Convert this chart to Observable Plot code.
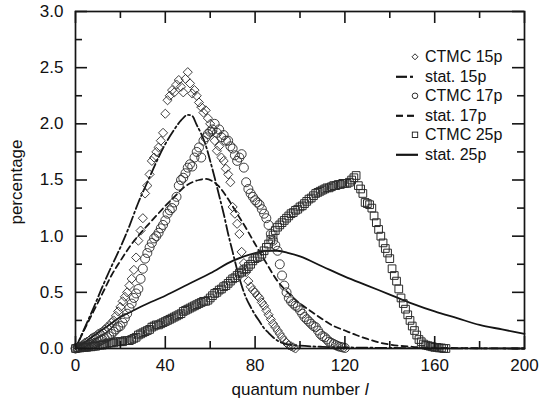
<!DOCTYPE html>
<html>
<head>
<meta charset="utf-8">
<script src="https://cdn.jsdelivr.net/npm/d3@7"></script>
<script src="https://cdn.jsdelivr.net/npm/@observablehq/plot@0.6"></script>
<style>
  body { margin: 0; background: #fff; }
  #wrap { position: relative; width: 540px; height: 405px; font-family: "Liberation Sans", Arial, sans-serif; color: #111; }
  #wrap svg.plot { position: absolute; left: 0; top: 0; }
  #wrap svg.plot text { font-size: 17px; font-family: "Liberation Sans", Arial, sans-serif; }
  .lab { position: absolute; font-size: 17px; white-space: nowrap; }
  #ylab { left: 17px; top: 182px; transform: translate(-50%, -50%) rotate(-90deg); }
  #xlab { left: 300px; top: 380px; transform: translateX(-50%); }
  #legend { position: absolute; left: 394px; top: 47px; font-size: 16px; }
  #legend .row { height: 19.6px; line-height: 19.6px; display: flex; align-items: center; }
  #legend .row svg { width: 31px; height: 19.6px; flex: none; }
</style>
</head>
<body>
<div id="wrap">
  <div class="lab" id="ylab">percentage</div>
  <div class="lab" id="xlab">quantum number <i>l</i></div>
  <div id="legend"></div>
</div>
<script>
// ---- data ----
// CTMC 15p, value at l = 0,1,2,...
const ctmc15 = [
  0, 0.01, 0.02, 0.03, 0.05, 0.06, 0.07, 0.09, 0.1, 0.11,
  0.13, 0.14, 0.15, 0.17, 0.19, 0.2, 0.23, 0.25, 0.29, 0.33,
  0.37, 0.42, 0.46, 0.5, 0.56, 0.62, 0.7, 0.81, 0.96, 1.05,
  1.16, 1.38, 1.45, 1.55, 1.67, 1.7, 1.75, 1.79, 1.85, 1.92,
  2.09, 2.21, 2.25, 2.3, 2.28, 2.35, 2.39, 2.33, 2.28, 2.4,
  2.46, 2.36, 2.27, 2.3, 2.25, 2.19, 2.15, 2.1, 2.12, 2.05,
  2.0, 1.93, 1.85, 1.76, 1.8, 1.7, 1.67, 1.6, 1.55, 1.48,
  1.26, 1.2, 1.11, 1.02, 0.86, 0.76, 0.68, 0.6, 0.55, 0.52,
  0.5, 0.47, 0.45, 0.41, 0.38, 0.34, 0.3, 0.26, 0.22, 0.19,
  0.16, 0.13, 0.1, 0.07, 0.05, 0.03, 0.02, 0.01, 0.0
];
// CTMC 17p, value at l = 0,1,2,...
const ctmc17 = [
  0, 0.005, 0.01, 0.015, 0.02, 0.025, 0.03, 0.035, 0.045, 0.05,
  0.06, 0.07, 0.08, 0.09, 0.1, 0.11, 0.13, 0.15, 0.17, 0.19,
  0.2, 0.23, 0.27, 0.31, 0.36, 0.4, 0.45, 0.49, 0.53, 0.62,
  0.71, 0.8, 0.85, 0.9, 0.94, 0.98, 1.0, 1.03, 1.07, 1.1,
  1.14, 1.2, 1.23, 1.25, 1.3, 1.35, 1.45, 1.5, 1.52, 1.56,
  1.61, 1.64, 1.62, 1.7, 1.75, 1.79, 1.7, 1.85, 1.88, 1.91,
  1.93, 1.95, 2.0, 1.92, 1.95, 1.88, 1.9, 1.85, 1.85, 1.8,
  1.78, 1.72, 1.67, 1.7, 1.73, 1.61, 1.48, 1.42, 1.38, 1.35,
  1.32, 1.3, 1.28, 1.24, 1.2, 1.16, 1.1, 1.02, 0.96, 0.92,
  0.87, 0.75, 0.65, 0.56, 0.5, 0.45, 0.42, 0.4, 0.38, 0.37,
  0.34, 0.31, 0.28, 0.26, 0.24, 0.22, 0.2, 0.19, 0.16, 0.13,
  0.11, 0.1, 0.08, 0.06, 0.05, 0.04, 0.03, 0.02, 0.015, 0.01, 0.005
];
// CTMC 25p, value at l = 0,1,2,...
const ctmc25 = [
  0, 0.005, 0.005, 0.01, 0.01, 0.01, 0.015, 0.015, 0.02, 0.02,
  0.03, 0.03, 0.03, 0.04, 0.04, 0.05, 0.05, 0.05, 0.06, 0.06,
  0.06, 0.06, 0.07, 0.07, 0.07, 0.08, 0.09, 0.1, 0.12, 0.13,
  0.14, 0.15, 0.16, 0.17, 0.19, 0.2, 0.21, 0.21, 0.22, 0.23,
  0.24, 0.25, 0.26, 0.27, 0.28, 0.29, 0.3, 0.31, 0.33, 0.34,
  0.35, 0.36, 0.37, 0.38, 0.39, 0.4, 0.41, 0.42, 0.42, 0.43,
  0.45, 0.47, 0.49, 0.5, 0.52, 0.53, 0.55, 0.56, 0.58, 0.6,
  0.62, 0.63, 0.65, 0.67, 0.68, 0.7, 0.71, 0.73, 0.75, 0.78,
  0.8, 0.81, 0.82, 0.84, 0.87, 0.9, 0.93, 0.97, 1.01, 1.05,
  1.08, 1.1, 1.12, 1.14, 1.16, 1.18, 1.2, 1.21, 1.23, 1.24,
  1.26, 1.27, 1.29, 1.31, 1.33, 1.34, 1.36, 1.38, 1.39, 1.4,
  1.41, 1.42, 1.43, 1.43, 1.44, 1.45, 1.45, 1.46, 1.46, 1.47,
  1.47, 1.47, 1.48, 1.5, 1.52, 1.54, 1.45, 1.42, 1.38, 1.3,
  1.29, 1.28, 1.25, 1.18, 1.12, 1.06, 1.0, 0.94, 0.89, 0.85,
  0.8, 0.71, 0.65, 0.6, 0.53, 0.45, 0.4, 0.35, 0.3, 0.25,
  0.2, 0.16, 0.12, 0.08, 0.06, 0.04, 0.03, 0.025, 0.02, 0.015,
  0.01, 0.01, 0.005, 0.005, 0.0, 0.0
];
// statistical curves
const stat15L = [0, 4, 8, 12, 16, 20, 24, 28, 32, 36, 40, 44, 47, 50, 52, 54, 56, 58, 60, 62, 64, 66, 68, 70, 72, 74, 76, 78, 80, 82, 84, 86, 88, 90, 95, 100, 110, 120, 140, 160, 200];
const stat15V = [0, 0.18, 0.36, 0.55, 0.73, 0.9, 1.09, 1.3, 1.48, 1.66, 1.82, 1.95, 2.03, 2.08, 2.07, 1.99, 1.91, 1.81, 1.67, 1.52, 1.36, 1.2, 1.02, 0.86, 0.7, 0.56, 0.45, 0.37, 0.3, 0.24, 0.18, 0.14, 0.1, 0.07, 0.035, 0.025, 0.015, 0.01, 0.005, 0.002, 0];
const stat17L = [0, 4, 8, 12, 16, 20, 25, 30, 35, 41, 45, 48, 52, 55, 58, 61, 64, 68, 72, 76, 80, 85, 90, 95, 100, 105, 110, 115, 120, 125, 130, 135, 140, 150, 160, 180, 200];
const stat17V = [0, 0.17, 0.33, 0.49, 0.65, 0.78, 0.93, 1.05, 1.16, 1.29, 1.37, 1.43, 1.48, 1.5, 1.51, 1.49, 1.44, 1.33, 1.2, 1.07, 0.93, 0.76, 0.6, 0.49, 0.4, 0.33, 0.26, 0.2, 0.16, 0.12, 0.085, 0.055, 0.035, 0.015, 0.007, 0.002, 0];
const stat25L = [0, 5, 10, 15, 20, 25, 30, 40, 50, 60, 70, 80, 85, 90, 95, 100, 110, 120, 130, 140, 150, 160, 170, 180, 190, 200];
const stat25V = [0, 0.07, 0.14, 0.21, 0.28, 0.33, 0.38, 0.47, 0.57, 0.67, 0.78, 0.85, 0.87, 0.87, 0.85, 0.82, 0.73, 0.64, 0.56, 0.48, 0.4, 0.33, 0.27, 0.21, 0.17, 0.13];

const xMajor = [0, 40, 80, 120, 160, 200];
const xMinor = [20, 60, 100, 140, 180];
const yMajor = [0, 0.5, 1.0, 1.5, 2.0, 2.5, 3.0];
const yMinor = [0.25, 0.75, 1.25, 1.75, 2.25, 2.75];

const legendItems = [
  {label: "CTMC 15p", kind: "diamond"},
  {label: "stat. 15p", kind: "dashdot"},
  {label: "CTMC 17p", kind: "circle"},
  {label: "stat. 17p", kind: "dash"},
  {label: "CTMC 25p", kind: "square"},
  {label: "stat. 25p", kind: "solid"}
];

// ---- tables ----
const pts = arr => arr.map((v, i) => ({l: i, v}));
const curve = (L, V) => L.map((l, i) => ({l, v: V[i]}));

const W = 540, H = 405, mL = 75, mR = 16, mT = 11, mB = 57;
const fw = W - mL - mR, fh = H - mT - mB;
const ink = "#151515";

const chart = Plot.plot({
  width: W, height: H,
  marginLeft: mL, marginRight: mR, marginTop: mT, marginBottom: mB,
  style: {fontFamily: "Liberation Sans, Arial, sans-serif", fontSize: "17px", color: "#111", background: "transparent"},
  x: {domain: [0, 200], axis: null},
  y: {domain: [0, 3], axis: null},
  marks: [
    Plot.line(curve(stat25L, stat25V), {x: "l", y: "v", stroke: ink, strokeWidth: 1.8, curve: "monotone-x"}),
    Plot.line(curve(stat17L, stat17V), {x: "l", y: "v", stroke: ink, strokeWidth: 1.8, strokeDasharray: "6,4", curve: "monotone-x"}),
    Plot.line(curve(stat15L, stat15V), {x: "l", y: "v", stroke: ink, strokeWidth: 1.8, strokeDasharray: "11,3,2,3", curve: "monotone-x"}),
    Plot.dot(pts(ctmc25), {x: "l", y: "v", symbol: "square2", r: 4.9, stroke: "#2a2a2a", strokeWidth: 1, fill: "none"}),
    Plot.dot(pts(ctmc17), {x: "l", y: "v", symbol: "circle", r: 4.5, stroke: "#2a2a2a", strokeWidth: 0.9, fill: "none"}),
    Plot.dot(pts(ctmc15), {x: "l", y: "v", symbol: "diamond2", r: 4.1, stroke: "#2a2a2a", strokeWidth: 0.9, fill: "none"}),
    // inward ticks
    Plot.tickX(xMajor, {stroke: ink, strokeWidth: 1.6, insetTop: fh - 12}),
    Plot.tickX(xMinor, {stroke: ink, strokeWidth: 1.6, insetTop: fh - 7}),
    Plot.tickX(xMajor, {stroke: ink, strokeWidth: 1.6, insetBottom: fh - 12}),
    Plot.tickX(xMinor, {stroke: ink, strokeWidth: 1.6, insetBottom: fh - 7}),
    Plot.tickY(yMajor, {stroke: ink, strokeWidth: 1.6, insetRight: fw - 12}),
    Plot.tickY(yMinor, {stroke: ink, strokeWidth: 1.6, insetRight: fw - 7}),
    Plot.tickY(yMajor, {stroke: ink, strokeWidth: 1.6, insetLeft: fw - 12}),
    Plot.tickY(yMinor, {stroke: ink, strokeWidth: 1.6, insetLeft: fw - 7}),
    Plot.frame({stroke: ink, strokeWidth: 1.7}),
    Plot.axisX(xMajor, {tickSize: 0, tickPadding: 10, label: null, fontSize: 17, fill: "#111"}),
    Plot.axisY(yMajor, {tickSize: 0, tickPadding: 12, label: null, fontSize: 17, fill: "#111", tickFormat: d3.format(".1f")})
  ]
});
chart.classList.add("plot");
document.getElementById("wrap").prepend(chart);

// legend
const leg = d3.select("#legend");
for (const it of legendItems) {
  const row = leg.append("div").attr("class", "row");
  const s = row.append("svg");
  const g = s.append("g").attr("fill", "none").attr("stroke", ink);
  const cy = 9.8;
  if (it.kind === "diamond") g.append("path").attr("d", `M21,${cy-3}L24,${cy}L21,${cy+3}L18,${cy}Z`).attr("stroke-width", 0.9);
  if (it.kind === "circle") g.append("circle").attr("cx", 21).attr("cy", cy).attr("r", 2.8).attr("stroke-width", 0.9);
  if (it.kind === "square") g.append("rect").attr("x", 18.3).attr("y", cy - 2.7).attr("width", 5.4).attr("height", 5.4).attr("stroke-width", 0.9);
  if (it.kind === "dashdot") { g.append("line").attr("x1", 2).attr("x2", 13).attr("y1", cy).attr("y2", cy).attr("stroke-width", 2.2);
                               g.append("line").attr("x1", 16).attr("x2", 19).attr("y1", cy).attr("y2", cy).attr("stroke-width", 2.2); }
  if (it.kind === "dash") { g.append("line").attr("x1", 2).attr("x2", 9).attr("y1", cy).attr("y2", cy).attr("stroke-width", 2.2);
                            g.append("line").attr("x1", 13).attr("x2", 20).attr("y1", cy).attr("y2", cy).attr("stroke-width", 2.2); }
  if (it.kind === "solid") g.append("line").attr("x1", 2).attr("x2", 24).attr("y1", cy).attr("y2", cy).attr("stroke-width", 2.2);
  row.append("span").text(it.label);
}
</script>
</body>
</html>
